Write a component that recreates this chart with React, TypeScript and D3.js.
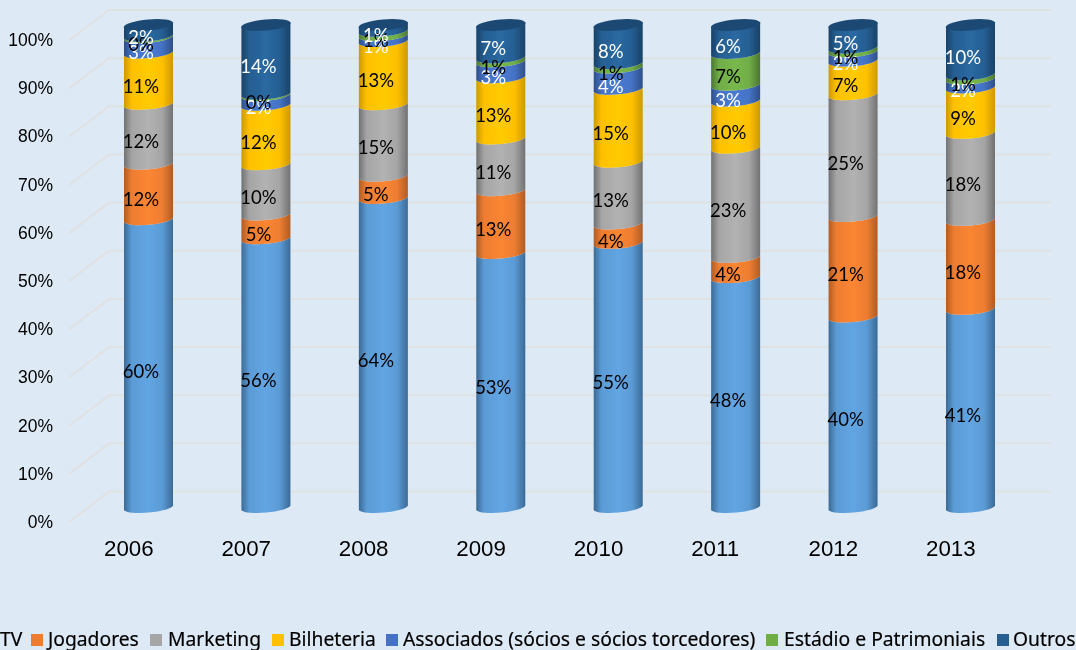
import React from "react";
import * as d3 from "d3";

const years = ["2006", "2007", "2008", "2009", "2010", "2011", "2012", "2013"];
const seriesNames = ["TV", "Jogadores", "Marketing", "Bilheteria", "Associados (sócios e sócios torcedores)", "Estádio e Patrimoniais", "Outros"];
const tv = [59.6, 55.6, 64.0, 52.6, 54.7, 47.8, 39.6, 41.0];
const jogadores = [11.5, 4.9, 4.6, 13.0, 4.0, 4.2, 20.9, 18.4];
const marketing = [12.4, 10.4, 14.8, 10.7, 12.8, 22.7, 25.3, 18.0];
const bilheteria = [10.6, 12.3, 13.1, 12.7, 15.1, 9.8, 7.0, 9.4];
const associados = [3.2, 2.0, 1.2, 3.3, 4.4, 3.3, 1.9, 1.8];
const estadio = [0.3, 0.3, 0.9, 0.8, 0.9, 6.6, 0.8, 0.9];
const outros = [2.4, 14.4, 1.4, 6.9, 8.1, 6.0, 4.9, 10.4];
const seriesValues = [tv, jogadores, marketing, bilheteria, associados, estadio, outros];
const ticks = [0, 10, 20, 30, 40, 50, 60, 70, 80, 90, 100];

const baseColors = ["#5b9bd5", "#ed7d31", "#a5a5a5", "#ffc000", "#4472c4", "#70ad47", "#255e91"];
const lightColors = ["#62a5e3", "#fb8633", "#b2b2b2", "#ffcb00", "#4a7cd4", "#78b84c", "#2a69a2"];
const darkColors = ["#3b6a96", "#b05c25", "#717171", "#cc9a00", "#2f4f88", "#4c7630", "#1a4267"];
const labelColors = ["#000", "#000", "#000", "#000", "#fff", "#000", "#fff"];
const legendSwatchX = [-20, 31, 150, 272, 386, 766, 997];
const legendTextX = [0, 48, 168, 289, 403, 784, 1013];

const W = 1076, H = 650, BW = 49, TILT = 2.2, RY = 5.5;
const rows = years.map((y, i) => {
  const r: Record<string, number | string> = { year: y };
  seriesNames.forEach((s, k) => (r[s] = seriesValues[k][i]));
  return r;
});
const stacked = d3.stack<any>().keys(seriesNames).offset(d3.stackOffsetExpand)(rows);

const xBand = d3.scalePoint<string>().domain(years).range([124, 946]);
const yCyl = d3.scaleLinear().domain([0, 1]).range([508, 25]);
const yGrid = d3.scaleLinear().domain([0, 100]).range([491.5, 10]);
const yAxis = d3.scaleLinear().domain([0, 100]).range([522, 40]);
const fmt = d3.format(".0f");

const arc = (x0: number, x1: number, yy: number, rev: boolean) =>
  rev
    ? `L${x1},${yy - TILT} A${BW / 2 + 0.4},${RY} -5 0 1 ${x0},${yy + TILT}`
    : `L${x0},${yy + TILT} A${BW / 2 + 0.4},${RY} -5 0 0 ${x1},${yy - TILT}`;

function band(x0: number, yb: number, yt: number) {
  const x1 = x0 + BW;
  return `M${x0},${yt + TILT} ${arc(x0, x1, yb, false)} ${arc(x0, x1, yt, true)} Z`;
}

export default function App() {
  return (
    <svg width={W} height={H} viewBox={`0 0 ${W} ${H}`} style={{ position: "fixed", left: 0, top: 0, background: "#dde9f5" }}>
      <defs>
        {seriesNames.map((_, k) => (
          <linearGradient id={`g${k}`} key={k} x1="0" x2="1" y1="0" y2="0">
            <stop offset="0" stopColor={darkColors[k]} />
            <stop offset="0.16" stopColor={baseColors[k]} />
            <stop offset="0.5" stopColor={lightColors[k]} />
            <stop offset="0.78" stopColor={baseColors[k]} />
            <stop offset="1" stopColor={darkColors[k]} />
          </linearGradient>
        ))}
        <filter id="soft" x="-5%" y="-5%" width="110%" height="110%">
          <feGaussianBlur stdDeviation="0.45" />
        </filter>
      </defs>
      <g filter="url(#soft)">
        {ticks.map((t) => (
          <g key={t}>
            <path d={`M69,${yGrid(t) + 30.5} L109,${yGrid(t)} H1051`} fill="none" stroke="#e0e1e2" strokeWidth={2} />
            <text x={53} y={yAxis(t)} textAnchor="end" dominantBaseline="central" fontFamily="Liberation Sans" fontSize={17.5} fill="#000">
              {t}%
            </text>
          </g>
        ))}
        {years.map((y) => {
          const x0 = xBand(y)!;
          const i = years.indexOf(y);
          return (
            <g key={y}>
              {stacked.map((s, k) => (
                <path key={k} d={band(x0, yCyl(s[i][0]), yCyl(s[i][1]))} fill={`url(#g${k})`} />
              ))}
              <ellipse cx={x0 + BW / 2} cy={yCyl(1)} rx={BW / 2 + 0.4} ry={RY} transform={`rotate(-5 ${x0 + BW / 2} ${yCyl(1)})`} fill="#1d4a73" />
              <text x={x0 - 20} y={556} fontFamily="Liberation Sans" fontSize={22.3} fill="#000">
                {y}
              </text>
            </g>
          );
        })}
        {stacked.map((s, k) =>
          years.map((y, i) => (
            <text key={y + k} x={xBand(y)! + 17} y={(yCyl(s[i][0]) + yCyl(s[i][1])) / 2 + 6.5} textAnchor="middle" dominantBaseline="central" fontFamily="Lato" fontSize={18.5} fill={labelColors[k]}>
              {fmt(seriesValues[k][i])}%
            </text>
          ))
        )}
        {seriesNames.map((n, k) => (
          <g key={n}>
            <rect x={legendSwatchX[k]} y={634} width={12} height={12} fill={baseColors[k]} />
            <text x={legendTextX[k]} y={646} fontFamily="Noto Sans" fontSize={19.3} fill="#000" stroke="#000" strokeWidth={0.2}>
              {n}
            </text>
          </g>
        ))}
      </g>
    </svg>
  );
}
